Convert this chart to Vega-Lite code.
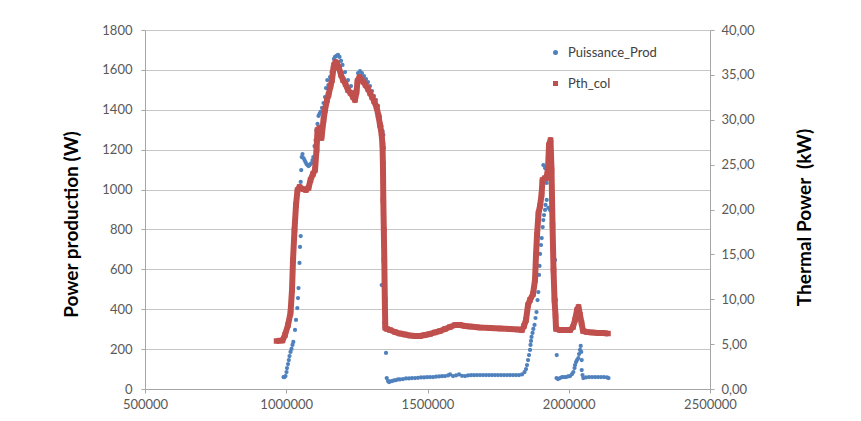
{
  "$schema": "https://vega.github.io/schema/vega-lite/v6.json",
  "width": 565,
  "height": 359,
  "autosize": {"type": "none"},
  "padding": {"left": 145, "top": 30, "right": 151, "bottom": 32},
  "background": "white",
  "datasets": {
    "blue": [
      {"x":990290,"w":60},{"x":993830,"w":60},{"x":997370,"w":65},{"x":1000910,"w":85},{"x":1002680,"w":105},{"x":1006220,"w":125},{"x":1009050,"w":145},{"x":1011530,"w":165},{"x":1015070,"w":186},{"x":1018610,"w":201},{"x":1022150,"w":221},{"x":1024980,"w":236},{"x":1031000,"w":296},{"x":1034540,"w":346},{"x":1039140,"w":406},{"x":1041620,"w":456},{"x":1043390,"w":506},{"x":1046930,"w":632},{"x":1048700,"w":712},{"x":1051180,"w":767},{"x":1051180,"w":1038},{"x":1052950,"w":1098},{"x":1054720,"w":1163},{"x":1057550,"w":1178},{"x":1061090,"w":1158},{"x":1064630,"w":1148},{"x":1068170,"w":1138},{"x":1071710,"w":1128},{"x":1075250,"w":1123},{"x":1078790,"w":1118},{"x":1082330,"w":1123},{"x":1085870,"w":1128},{"x":1089410,"w":1133},{"x":1092950,"w":1148},{"x":1095780,"w":1163},{"x":1100030,"w":1218},{"x":1103570,"w":1248},{"x":1107110,"w":1299},{"x":1110650,"w":1329},{"x":1114190,"w":1369},{"x":1117730,"w":1379},{"x":1121270,"w":1389},{"x":1126580,"w":1409},{"x":1131890,"w":1434},{"x":1137200,"w":1464},{"x":1140740,"w":1509},{"x":1145340,"w":1549},{"x":1148880,"w":1524},{"x":1154900,"w":1564},{"x":1160210,"w":1589},{"x":1165520,"w":1630},{"x":1169060,"w":1655},{"x":1172600,"w":1665},{"x":1177910,"w":1670},{"x":1183220,"w":1675},{"x":1188530,"w":1665},{"x":1193840,"w":1645},{"x":1199150,"w":1625},{"x":1208000,"w":1589},{"x":1218620,"w":1549},{"x":1229240,"w":1519},{"x":1239860,"w":1489},{"x":1248710,"w":1509},{"x":1254020,"w":1584},{"x":1261100,"w":1594},{"x":1268180,"w":1584},{"x":1275260,"w":1569},{"x":1282340,"w":1554},{"x":1289420,"w":1539},{"x":1296500,"w":1519},{"x":1303580,"w":1494},{"x":1310660,"w":1469},{"x":1317740,"w":1449},{"x":1324820,"w":1419},{"x":1331900,"w":1364},{"x":1337210,"w":1319},{"x":1340750,"w":1294},{"x":1343580,"w":1274},{"x":1346060,"w":1208},{"x":1346060,"w":1133},{"x":1337920,"w":521},{"x":1346060,"w":331},{"x":1353140,"w":181},{"x":1355620,"w":55},{"x":1360220,"w":40},{"x":1363760,"w":35},
      {"x":1367300,"w":38},{"x":1374380,"w":40},{"x":1381460,"w":43},{"x":1388540,"w":45},{"x":1395620,"w":48},{"x":1402700,"w":48},{"x":1413320,"w":50},{"x":1423940,"w":53},{"x":1434560,"w":53},{"x":1445180,"w":55},{"x":1455800,"w":55},{"x":1466420,"w":56},{"x":1477040,"w":58},{"x":1487660,"w":58},{"x":1498280,"w":59},{"x":1508900,"w":60},{"x":1519520,"w":60},{"x":1530140,"w":62},{"x":1540760,"w":63},{"x":1551380,"w":64},{"x":1562000,"w":65},{"x":1572620,"w":68},{"x":1579700,"w":73},{"x":1590320,"w":65},{"x":1600940,"w":68},{"x":1611560,"w":73},{"x":1622180,"w":66},{"x":1632800,"w":65},{"x":1643420,"w":68},{"x":1654040,"w":69},{"x":1664660,"w":69},{"x":1675280,"w":70},{"x":1685900,"w":70},{"x":1696520,"w":70},{"x":1707140,"w":70},{"x":1717760,"w":70},{"x":1728380,"w":70},{"x":1739000,"w":70},{"x":1749620,"w":70},{"x":1760240,"w":70},{"x":1770860,"w":70},{"x":1781480,"w":70},{"x":1792100,"w":70},{"x":1802720,"w":70},{"x":1813340,"w":70},{"x":1823960,"w":70},{"x":1834580,"w":73},
      {"x":1843430,"w":85},{"x":1848740,"w":100},{"x":1852280,"w":120},{"x":1855820,"w":145},{"x":1859360,"w":170},{"x":1862900,"w":196},{"x":1864670,"w":221},{"x":1866440,"w":241},{"x":1868210,"w":261},{"x":1871750,"w":281},{"x":1874580,"w":301},{"x":1878830,"w":321},{"x":1882370,"w":356},{"x":1885910,"w":386},{"x":1889450,"w":446},{"x":1892280,"w":486},{"x":1894760,"w":572},{"x":1896530,"w":617},{"x":1898300,"w":677},{"x":1901840,"w":722},{"x":1904320,"w":757},{"x":1907860,"w":812},{"x":1909980,"w":847},{"x":1912460,"w":872},{"x":1916000,"w":898},{"x":1917770,"w":923},{"x":1922020,"w":948},{"x":1909980,"w":1123},{"x":1916000,"w":1108},{"x":1922020,"w":1033},{"x":1927680,"w":908},{"x":1933700,"w":898},{"x":1939720,"w":898},{"x":1951400,"w":647},{"x":1954940,"w":446},{"x":1957420,"w":170},{"x":1956710,"w":55},{"x":1962020,"w":50},{"x":1969100,"w":55},{"x":1976180,"w":60},{"x":1983260,"w":60},{"x":1990340,"w":60},{"x":1997420,"w":63},{"x":2004500,"w":65},{"x":2011580,"w":75},{"x":2016180,"w":85},{"x":2020430,"w":105},{"x":2022200,"w":120},{"x":2025740,"w":135},{"x":2029280,"w":145},{"x":2033880,"w":155},{"x":2036360,"w":175},{"x":2039900,"w":196},{"x":2042380,"w":216},{"x":2044150,"w":186},{"x":2045920,"w":145},{"x":2045920,"w":95},{"x":2048750,"w":70},{"x":2051580,"w":55},{"x":2061140,"w":58},{"x":2071760,"w":60},{"x":2082380,"w":60},{"x":2093000,"w":60},{"x":2103620,"w":60},{"x":2114240,"w":60},{"x":2124860,"w":60},{"x":2135480,"w":58},{"x":2140790,"w":55}
    ],
    "red": [
      {"x":965510,"kw":5.35},{"x":986750,"kw":5.40},{"x":995600,"kw":6.02},{"x":1006220,"kw":7.13},{"x":1015070,"kw":8.47},{"x":1020380,"kw":11.03},{"x":1023920,"kw":14.37},{"x":1029230,"kw":17.72},{"x":1034540,"kw":20.50},{"x":1039850,"kw":22.17},{"x":1046930,"kw":22.51},{"x":1059320,"kw":22.28},{"x":1069940,"kw":22.17},{"x":1078790,"kw":22.40},{"x":1085870,"kw":23.29},{"x":1094720,"kw":23.96},{"x":1101800,"kw":24.40},{"x":1107110,"kw":26.63},{"x":1110650,"kw":28.86},{"x":1117730,"kw":29.08},{"x":1124810,"kw":27.97},{"x":1131890,"kw":29.97},{"x":1137200,"kw":31.09},{"x":1144280,"kw":32.20},{"x":1149590,"kw":32.76},{"x":1156670,"kw":33.76},{"x":1161980,"kw":34.43},{"x":1167290,"kw":35.77},{"x":1174370,"kw":36.43},{"x":1179680,"kw":36.32},{"x":1186760,"kw":35.77},{"x":1193840,"kw":34.99},{"x":1200920,"kw":34.43},{"x":1209770,"kw":33.98},{"x":1218620,"kw":33.31},{"x":1227470,"kw":32.98},{"x":1236320,"kw":32.53},{"x":1243400,"kw":32.20},{"x":1248710,"kw":33.09},{"x":1252250,"kw":34.32},{"x":1259330,"kw":34.76},{"x":1266410,"kw":34.43},{"x":1273490,"kw":34.21},{"x":1280570,"kw":33.87},{"x":1289420,"kw":33.43},{"x":1296500,"kw":32.98},{"x":1303580,"kw":32.53},{"x":1310660,"kw":32.09},{"x":1319510,"kw":31.42},{"x":1326590,"kw":30.42},{"x":1331900,"kw":29.41},{"x":1337210,"kw":28.52},{"x":1340750,"kw":27.19},{"x":1342520,"kw":24.40},{"x":1343580,"kw":21.06},{"x":1345350,"kw":17.72},{"x":1347120,"kw":14.37},{"x":1348890,"kw":9.92},{"x":1350660,"kw":6.80},{"x":1356680,"kw":6.69},{"x":1367300,"kw":6.57},{"x":1385000,"kw":6.35},{"x":1402700,"kw":6.18},{"x":1420400,"kw":6.07},{"x":1438100,"kw":5.96},{"x":1455800,"kw":5.91},{"x":1473500,"kw":5.91},{"x":1491200,"kw":6.02},{"x":1508900,"kw":6.13},{"x":1526600,"kw":6.30},{"x":1544300,"kw":6.46},{"x":1562000,"kw":6.69},{"x":1579700,"kw":6.91},{"x":1597400,"kw":7.13},{"x":1615100,"kw":7.13},{"x":1632800,"kw":7.02},{"x":1650500,"kw":6.96},{"x":1685900,"kw":6.85},{"x":1721300,"kw":6.80},{"x":1756700,"kw":6.74},{"x":1792100,"kw":6.69},{"x":1820420,"kw":6.63},{"x":1834580,"kw":6.57},{"x":1841660,"kw":7.02},{"x":1848740,"kw":7.69},{"x":1855820,"kw":9.36},{"x":1862900,"kw":9.92},{"x":1873520,"kw":10.58},{"x":1880600,"kw":12.14},{"x":1884140,"kw":14.93},{"x":1887680,"kw":17.16},{"x":1892990,"kw":19.61},{"x":1898300,"kw":20.39},{"x":1903610,"kw":21.62},{"x":1907150,"kw":23.29},{"x":1916000,"kw":23.51},{"x":1921310,"kw":23.51},{"x":1926620,"kw":24.62},{"x":1930160,"kw":27.19},{"x":1935470,"kw":27.74},{"x":1939010,"kw":24.40},{"x":1942550,"kw":18.27},{"x":1946090,"kw":13.26},{"x":1949630,"kw":9.92},{"x":1953170,"kw":8.13},{"x":1954940,"kw":6.69},{"x":1969100,"kw":6.57},{"x":1986800,"kw":6.57},{"x":2004500,"kw":6.57},{"x":2015120,"kw":6.91},{"x":2022200,"kw":7.69},{"x":2029280,"kw":8.80},{"x":2034590,"kw":9.14},{"x":2039900,"kw":8.25},{"x":2045210,"kw":7.35},{"x":2050520,"kw":6.46},{"x":2064680,"kw":6.35},{"x":2082380,"kw":6.30},{"x":2103620,"kw":6.24},{"x":2121320,"kw":6.24},{"x":2139020,"kw":6.18}
    ]
  },
  "layer": [
    {
      "data": {"name": "blue"},
      "mark": {"type": "point", "filled": true, "size": 18, "opacity": 1},
      "encoding": {
        "x": {"field": "x", "type": "quantitative", "scale": {"domain": [500000, 2500000], "nice": false, "zero": false},
          "axis": {"values": [500000, 1000000, 1500000, 2000000, 2500000], "format": "d", "grid": false, "title": null, "labelPadding": 5}},
        "y": {"field": "w", "type": "quantitative", "scale": {"domain": [0, 1800], "nice": false},
          "axis": {"orient": "left", "values": [0, 200, 400, 600, 800, 1000, 1200, 1400, 1600, 1800], "format": "d", "grid": true, "title": "Power production (W)", "labelPadding": 9, "titleX": -74, "titleY": 194, "titleBaseline": "middle", "titleAngle": 270}},
        "color": {"datum": "Puissance_Prod", "type": "nominal", "scale": {"domain": ["Puissance_Prod", "Pth_col"], "range": ["#4F81BD", "#C0504D"]},
          "legend": {"title": null, "orient": "none", "legendX": 404, "legendY": 16}},
        "shape": {"datum": "Puissance_Prod", "type": "nominal", "scale": {"domain": ["Puissance_Prod", "Pth_col"], "range": ["circle", "square"]}, "legend": {"title": null, "orient": "none", "legendX": 404, "legendY": 16}}
      }
    },
    {
      "data": {"name": "red"},
      "encoding": {
        "x": {"field": "x", "type": "quantitative"},
        "y": {"field": "kw", "type": "quantitative", "scale": {"domain": [0, 40], "nice": false},
          "axis": {"orient": "right", "values": [0, 5, 10, 15, 20, 25, 30, 35, 40], "grid": false, "labelExpr": "replace(format(datum.value, '.2f'), '.', ',')", "title": "Thermal Power\u00a0 (kW)", "labelPadding": 7, "titleX": 94, "titleY": 187, "titleBaseline": "middle", "titleAngle": 270}}
      },
      "layer": [
        {"mark": {"type": "line", "strokeWidth": 6, "color": "#C0504D", "strokeJoin": "round"}, "encoding": {}},
        {"mark": {"type": "point", "filled": true, "size": 30, "opacity": 1},
          "encoding": {"color": {"datum": "Pth_col", "type": "nominal"}, "shape": {"datum": "Pth_col", "type": "nominal"}}}
      ]
    }
  ],
  "resolve": {"scale": {"y": "independent"}},
  "config": {
    "view": {"stroke": null},
    "font": "Lato",
    "axis": {
      "labelFont": "Lato", "labelFontSize": 13, "labelColor": "#595959",
      "titleFont": "Lato", "titleFontSize": 19, "titleFontWeight": "bold", "titleColor": "#000000",
      "domainColor": "#A6A6A6", "tickColor": "#A6A6A6", "tickSize": 4, "gridColor": "#C6C6C6", "labelFlush": false, "labelOverlap": false
    },
    "legend": {"labelFont": "Lato", "labelFontSize": 13, "labelColor": "#404040", "symbolSize": 25, "rowPadding": 17, "labelOffset": 6}
  }
}
